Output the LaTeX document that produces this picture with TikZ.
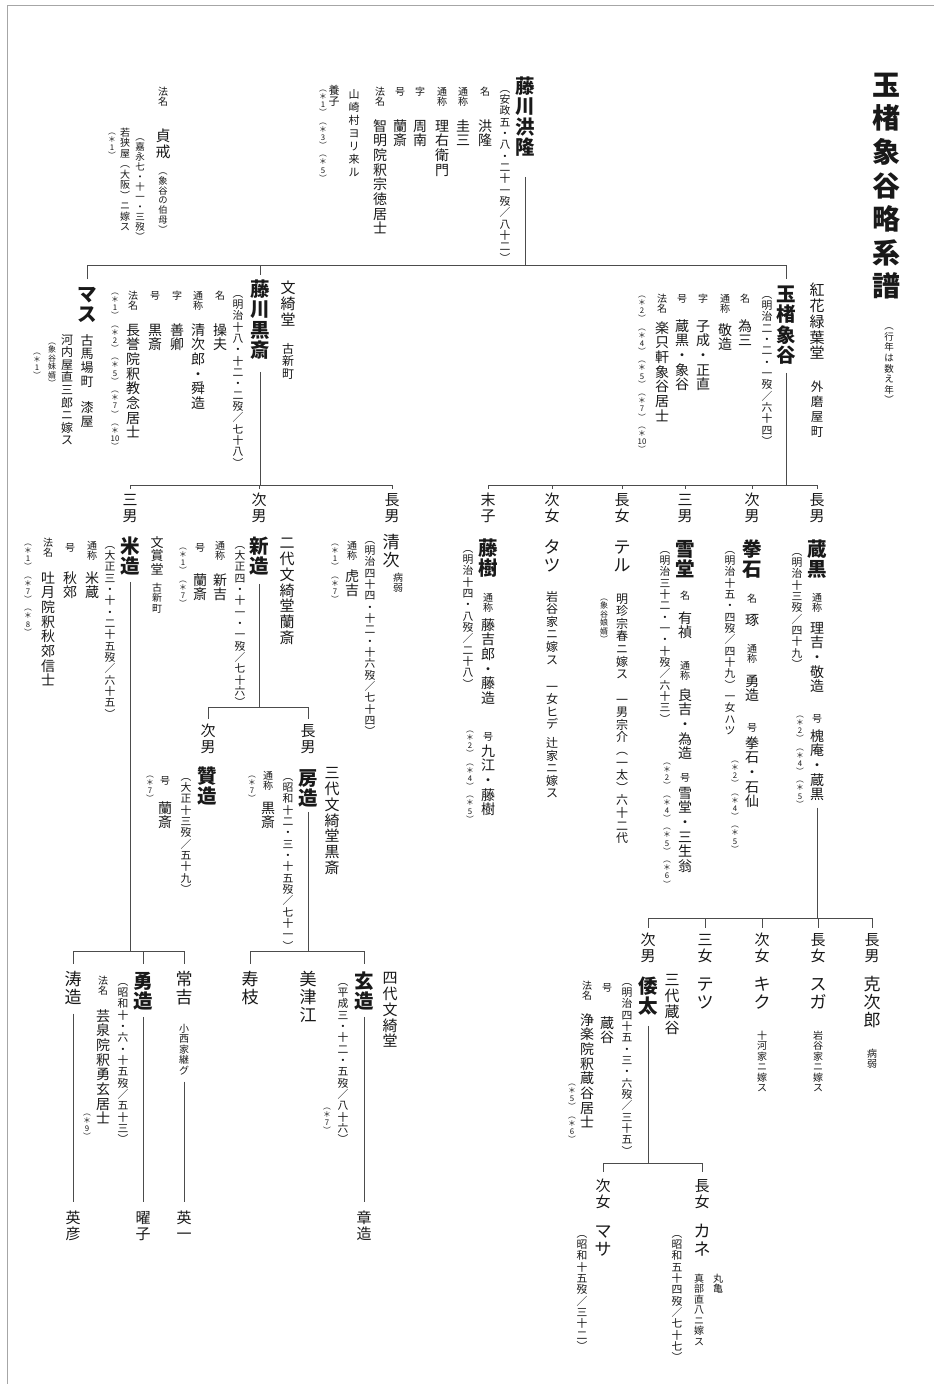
\documentclass[tikz,border=0pt]{standalone}
\usepackage{fontspec}
\setmainfont{Noto Sans CJK JP}
\makeatletter
\def\vtf{1.05}
\let\vt@end\relax
\def\vt@endm{\vt@end}
\def\vt@barm{|}
\newcommand\vt[1]{\vbox{\offinterlineskip\vt@loop#1\vt@end}}
\def\vt@loop#1{%
  \def\vt@arg{#1}%
  \ifx\vt@arg\vt@endm
  \else
    \ifx\vt@arg\vt@barm
      \vskip.5em
    \else
      \hbox to 1em{\hss\vrule height \dimexpr\vtf em-.12em\relax depth .12em width 0pt\relax#1\hss}%
    \fi
    \expandafter\vt@loop
  \fi}
\makeatother
\tikzset{
  vtx/.style={anchor=north, inner sep=0pt, outer sep=0pt, text=black!90},
  ttl/.style={vtx, font=\fontsize{28}{28}\selectfont\bfseries\def\vtf{1.2}},
  sub/.style={vtx, font=\fontsize{9.5}{9.5}\selectfont\def\vtf{1.12}},
  nm/.style={vtx, font=\fontsize{19.5}{19.5}\selectfont\bfseries},
  nmr/.style={vtx, font=\fontsize{17}{17}\selectfont},
  val/.style={vtx, font=\fontsize{14}{14}\selectfont},
  lbl/.style={vtx, font=\fontsize{10}{10}\selectfont},
  dt/.style={vtx, font=\fontsize{10.8}{10.8}\selectfont},
  dts/.style={vtx, font=\fontsize{9.5}{9.5}\selectfont},
  nt/.style={vtx, font=\fontsize{7.8}{7.8}\selectfont},
  rel/.style={vtx, font=\fontsize{15}{15}\selectfont},
  hall/.style={vtx, font=\fontsize{15}{15}\selectfont},
  sm/.style={vtx, font=\fontsize{11}{11}\selectfont},
  smm/.style={vtx, font=\fontsize{12}{12}\selectfont},
  sml/.style={vtx, font=\fontsize{10}{10}\selectfont},
  tny/.style={vtx, font=\fontsize{8}{8}\selectfont},
  ln/.style={line width=0.9pt, draw=black!70},
  frame/.style={line width=0.8pt, draw=black!35},
}
\begin{document}
\begin{tikzpicture}[x=1pt,y=-1pt]
\fill[white] (0,0) rectangle (934,1384);
\useasboundingbox (0,0) rectangle (934,1384);
\draw[frame] (7,1384) -- (7,5) -- (934,5);

% ---------- title ----------
\node[ttl] (title) at (886,65) {\vt{玉楮象谷略系譜}};
\node[sub] (subtitle) at (889,320) {\vt{︵行年は数え年︶}};

% ---------- 藤川洪隆 ----------
\node[nm] (kr) at (525,75) {\vt{藤川洪隆}};
\node[dt] (kr-d) at (505,82) {\vt{︵安政五・八・二十一歿／八十二︶}};
\node[lbl] (kr-l1) at (485,86) {\vt{名}};
\node[val] (kr-v1) at (485,118) {\vt{洪隆}};
\node[lbl] (kr-l2) at (463,86) {\vt{通称}};
\node[val] (kr-v2) at (463,118) {\vt{圭三}};
\node[lbl] (kr-l3) at (442,86) {\vt{通称}};
\node[val] (kr-v3) at (442,118) {\vt{理右衛門}};
\node[lbl] (kr-l4) at (420,86) {\vt{字}};
\node[val] (kr-v4) at (420,118) {\vt{周南}};
\node[lbl] (kr-l5) at (400,86) {\vt{号}};
\node[val] (kr-v5) at (400,118) {\vt{蘭斎}};
\node[lbl] (kr-l6) at (380,86) {\vt{法名}};
\node[val] (kr-v6) at (380,118) {\vt{智明院釈宗徳居士}};
\node[vtx, font=\fontsize{11}{11}\selectfont\def\vtf{1.18}] (kr-s1) at (354,87) {\vt{山崎村ヨリ来ル}};
\node[sm] (kr-s2) at (334,84) {\vt{養子}};
\node[nt] (kr-n) at (323,84) {\vt{︵＊1︶︵＊3︶︵＊5︶}};

% ---------- 貞戒 ----------
\node[lbl] (tk-l) at (163,86) {\vt{法名}};
\node[val, font=\fontsize{15}{15}\selectfont] (tk) at (163,128) {\vt{貞戒}};
\node[dts, font=\fontsize{9.3}{9.3}\selectfont] (tk-s) at (163,166) {\vt{︵象谷の伯母︶}};
\node[dts] (tk-d) at (140,132) {\vt{︵嘉永七・十一・三歿︶}};
\node[sml] (tk-m) at (125,127) {\vt{若狭屋︵大阪︶ニ嫁ス}};
\node[nt] (tk-n) at (112,127) {\vt{︵＊1︶}};

% ---------- 玉楮象谷 ----------
\node[nm] (sk) at (786,283) {\vt{玉楮象谷}};
\node[hall] (sk-h) at (817,282) {\vt{紅花緑葉堂}};
\node[vtx, font=\fontsize{12.5}{12.5}\selectfont\def\vtf{1.2}] (sk-hp) at (817,378) {\vt{外磨屋町}};
\node[dt] (sk-d) at (767,288) {\vt{︵明治二・二・一歿／六十四︶}};
\node[lbl] (sk-l1) at (745,293) {\vt{名}};
\node[val] (sk-v1) at (745,318) {\vt{為三}};
\node[lbl] (sk-l2) at (725,293) {\vt{通称}};
\node[val] (sk-v2) at (725,322) {\vt{敬造}};
\node[lbl] (sk-l3) at (703,293) {\vt{字}};
\node[val] (sk-v3) at (703,318) {\vt{子成・正直}};
\node[lbl] (sk-l4) at (682,293) {\vt{号}};
\node[val] (sk-v4) at (682,318) {\vt{蔵黒・象谷}};
\node[lbl] (sk-l5) at (662,293) {\vt{法名}};
\node[val] (sk-v5) at (662,320) {\vt{楽只軒象谷居士}};
\node[nt] (sk-n) at (642,290) {\vt{︵＊2︶︵＊4︶︵＊5︶︵＊7︶︵＊{10}︶}};

% ---------- 藤川黒斎 ----------
\node[nm] (ks) at (260,278) {\vt{藤川黒斎}};
\node[hall] (ks-h) at (288,280) {\vt{文綺堂}};
\node[smm] (ks-hp) at (288,342) {\vt{古新町}};
\node[dt] (ks-d) at (238,287) {\vt{︵明治十八・十二・二歿／七十八︶}};
\node[lbl] (ks-l1) at (220,290) {\vt{名}};
\node[val] (ks-v1) at (220,322) {\vt{操夫}};
\node[lbl] (ks-l2) at (198,290) {\vt{通称}};
\node[val] (ks-v2) at (198,322) {\vt{清次郎・舜造}};
\node[lbl] (ks-l3) at (177,290) {\vt{字}};
\node[val] (ks-v3) at (177,322) {\vt{善卿}};
\node[lbl] (ks-l4) at (155,290) {\vt{号}};
\node[val] (ks-v4) at (155,322) {\vt{黒斎}};
\node[lbl] (ks-l5) at (133,290) {\vt{法名}};
\node[val] (ks-v5) at (133,322) {\vt{長誉院釈教念居士}};
\node[nt] (ks-n) at (115,287) {\vt{︵＊1︶︵＊2︶︵＊5︶︵＊7︶︵＊{10}︶}};

% ---------- マス ----------
\node[nm] (ms) at (87,283) {\vt{マス}};
\node[vtx, font=\fontsize{13}{13}\selectfont] (ms-a) at (87,333) {\vt{古馬場町||漆屋}};
\node[smm] (ms-m) at (67,333) {\vt{河内屋直三郎ニ嫁ス}};
\node[tny] (ms-s) at (52,337) {\vt{︵象谷妹婿︶}};
\node[nt] (ms-n) at (37,347) {\vt{︵＊1︶}};

% ---------- 象谷の子 ----------
\node[rel] (r-kk) at (817,492) {\vt{長男}};
\node[rel] (r-ks) at (752,492) {\vt{次男}};
\node[rel] (r-sd) at (685,492) {\vt{三男}};
\node[rel] (r-te) at (622,492) {\vt{長女}};
\node[rel] (r-ta) at (552,492) {\vt{次女}};
\node[rel] (r-tj) at (488,492) {\vt{末子}};

% 蔵黒
\node[nm] (kk) at (817,538) {\vt{蔵黒}};
\node[dt] (kk-d) at (797,545) {\vt{︵明治十三歿／四十九︶}};
\node[lbl] (kk-l1) at (817,592) {\vt{通称}};
\node[val] (kk-v1) at (817,620) {\vt{理吉・敬造}};
\node[lbl] (kk-l2) at (817,713) {\vt{号}};
\node[val] (kk-v2) at (817,728) {\vt{槐庵・蔵黒}};
\node[nt] (kk-n) at (800,710) {\vt{︵＊2︶︵＊4︶︵＊5︶}};

% 拳石
\node[nm] (ke) at (752,538) {\vt{拳石}};
\node[dt] (ke-d) at (730,543) {\vt{︵明治十五・四歿／四十九︶一女ハツ}};
\node[lbl] (ke-l1) at (752,593) {\vt{名}};
\node[val] (ke-v1) at (752,612) {\vt{琢}};
\node[lbl] (ke-l2) at (752,643) {\vt{通称}};
\node[val] (ke-v2) at (752,673) {\vt{勇造}};
\node[lbl] (ke-l3) at (752,722) {\vt{号}};
\node[val] (ke-v3) at (752,735) {\vt{拳石・石仙}};
\node[nt] (ke-n) at (735,755) {\vt{︵＊2︶︵＊4︶︵＊5︶}};

% 雪堂
\node[nm] (sd) at (685,538) {\vt{雪堂}};
\node[dt] (sd-d) at (665,543) {\vt{︵明治三十二・一・十歿／六十三︶}};
\node[lbl] (sd-l1) at (685,590) {\vt{名}};
\node[val] (sd-v1) at (685,610) {\vt{有禎}};
\node[lbl] (sd-l2) at (685,660) {\vt{通称}};
\node[val] (sd-v2) at (685,687) {\vt{良吉・為造}};
\node[lbl] (sd-l3) at (685,772) {\vt{号}};
\node[val] (sd-v3) at (685,785) {\vt{雪堂・三生翁}};
\node[nt] (sd-n) at (667,757) {\vt{︵＊2︶︵＊4︶︵＊5︶︵＊6︶}};

% テル
\node[nmr] (te) at (622,538) {\vt{テル}};
\node[smm] (te-m) at (622,592) {\vt{明珍宗春ニ嫁ス}};
\node[tny] (te-s) at (604,593) {\vt{︵象谷娘婿︶}};
\node[smm] (te-c) at (622,693) {\vt{一男宗介︵一太︶六十二代}};

% タツ
\node[nmr] (ta) at (552,538) {\vt{タツ}};
\node[smm] (ta-m) at (552,590) {\vt{岩谷家ニ嫁ス}};
\node[smm] (ta-c) at (552,680) {\vt{一女ヒデ|辻家ニ嫁ス}};

% 藤樹
\node[nm] (tj) at (488,537) {\vt{藤樹}};
\node[dt] (tj-d) at (468,542) {\vt{︵明治十四・八歿／二十八︶}};
\node[lbl] (tj-l1) at (488,592) {\vt{通称}};
\node[val] (tj-v1) at (488,617) {\vt{藤吉郎・藤造}};
\node[lbl] (tj-l2) at (488,731) {\vt{号}};
\node[val] (tj-v2) at (488,743) {\vt{九江・藤樹}};
\node[nt] (tj-n) at (470,725) {\vt{︵＊2︶︵＊4︶︵＊5︶}};

% ---------- 黒斎の子 ----------
\node[rel] (r-sj) at (392,492) {\vt{長男}};
\node[rel] (r-sz) at (259,492) {\vt{次男}};
\node[rel] (r-yz) at (130,492) {\vt{三男}};

% 清次
\node[nmr] (sj) at (391,533) {\vt{清次}};
\node[sml] (sj-s) at (398,572) {\vt{病弱}};
\node[dt] (sj-d) at (370,533) {\vt{︵明治四十四・十二・十六歿／七十四︶}};
\node[lbl] (sj-l1) at (352,540) {\vt{通称}};
\node[val] (sj-v1) at (352,568) {\vt{虎吉}};
\node[nt] (sj-n) at (335,538) {\vt{︵＊1︶︵＊7︶}};

% 新造
\node[nm] (sz) at (259,535) {\vt{新造}};
\node[hall] (sz-h) at (287,535) {\vt{二代文綺堂蘭斎}};
\node[dt] (sz-d) at (240,538) {\vt{︵大正四・十一・一歿／七十六︶}};
\node[lbl] (sz-l1) at (220,540) {\vt{通称}};
\node[val] (sz-v1) at (220,572) {\vt{新吉}};
\node[lbl] (sz-l2) at (200,542) {\vt{号}};
\node[val] (sz-v2) at (200,572) {\vt{蘭斎}};
\node[nt] (sz-n) at (183,542) {\vt{︵＊1︶︵＊7︶}};

% 米造
\node[nm] (yz) at (130,535) {\vt{米造}};
\node[vtx, font=\fontsize{13}{13}\selectfont] (yz-h) at (157,535) {\vt{文賞堂}};
\node[sml] (yz-hp) at (157,582) {\vt{古新町}};
\node[dt] (yz-d) at (110,538) {\vt{︵大正三・十・二十五歿／六十五︶}};
\node[lbl] (yz-l1) at (92,540) {\vt{通称}};
\node[val] (yz-v1) at (92,570) {\vt{米蔵}};
\node[lbl] (yz-l2) at (70,542) {\vt{号}};
\node[val] (yz-v2) at (70,570) {\vt{秋郊}};
\node[lbl] (yz-l3) at (48,537) {\vt{法名}};
\node[val] (yz-v3) at (48,570) {\vt{吐月院釈秋郊信士}};
\node[nt] (yz-n) at (28,538) {\vt{︵＊1︶︵＊7︶︵＊8︶}};

% ---------- 新造の子 ----------
\node[rel] (r-fz) at (308,723) {\vt{長男}};
\node[rel] (r-az) at (208,723) {\vt{次男}};

% 房造
\node[nm] (fz) at (308,767) {\vt{房造}};
\node[hall] (fz-h) at (332,765) {\vt{三代文綺堂黒斎}};
\node[dt] (fz-d) at (288,770) {\vt{︵昭和十二・三・十五歿／七十一︶}};
\node[lbl] (fz-l1) at (268,770) {\vt{通称}};
\node[val] (fz-v1) at (268,800) {\vt{黒斎}};
\node[nt] (fz-n) at (252,770) {\vt{︵＊7︶}};

% 贊造
\node[nm] (az) at (207,765) {\vt{贊造}};
\node[dt] (az-d) at (186,770) {\vt{︵大正十三歿／五十九︶}};
\node[lbl] (az-l1) at (165,775) {\vt{号}};
\node[val] (az-v1) at (165,800) {\vt{蘭斎}};
\node[nt] (az-n) at (150,770) {\vt{︵＊7︶}};

% ---------- 米造の子 ----------
\node[nmr] (tk2) at (184,970) {\vt{常吉}};
\node[sml] (tk2-s) at (184,1023) {\vt{小西家継グ}};
\node[nm] (yu) at (143,970) {\vt{勇造}};
\node[dt] (yu-d) at (123,975) {\vt{︵昭和十・六・十五歿／五十三︶}};
\node[lbl] (yu-l1) at (103,975) {\vt{法名}};
\node[val] (yu-v1) at (103,1008) {\vt{芸泉院釈勇玄居士}};
\node[nt] (yu-n) at (87,1108) {\vt{︵＊9︶}};
\node[nmr] (tz) at (73,970) {\vt{涛造}};

% ---------- 房造の子 ----------
\node[nmr] (se) at (250,970) {\vt{寿枝}};
\node[nmr] (me) at (308,970) {\vt{美津江}};
\node[nm] (gz) at (364,970) {\vt{玄造}};
\node[hall] (gz-h) at (390,970) {\vt{四代文綺堂}};
\node[dt] (gz-d) at (343,975) {\vt{︵平成三・十二・五歿／八十六︶}};
\node[nt] (gz-n) at (327,1102) {\vt{︵＊7︶}};

% ---------- 孫 ----------
\node[rel] (hh) at (73,1210) {\vt{英彦}};
\node[rel] (yk) at (143,1210) {\vt{曜子}};
\node[rel] (ei) at (184,1210) {\vt{英一}};
\node[rel] (sz2) at (364,1210) {\vt{章造}};

% ---------- 蔵黒の子 ----------
\node[rel] (r-kj) at (872,932) {\vt{長男}};
\node[rel] (r-sg) at (818,932) {\vt{長女}};
\node[rel] (r-kq) at (762,932) {\vt{次女}};
\node[rel] (r-tt) at (705,932) {\vt{三女}};
\node[rel] (r-wt) at (648,932) {\vt{次男}};
\node[nmr] (kj) at (872,975) {\vt{克次郎}};
\node[sml] (kj-s) at (872,1048) {\vt{病弱}};
\node[nmr] (sg) at (818,975) {\vt{スガ}};
\node[sml] (sg-m) at (818,1030) {\vt{岩谷家ニ嫁ス}};
\node[nmr] (kq) at (762,975) {\vt{キク}};
\node[sml] (kq-m) at (762,1030) {\vt{十河家ニ嫁ス}};
\node[nmr] (tt) at (705,975) {\vt{テツ}};

% 倭太
\node[nm] (wt) at (648,975) {\vt{倭太}};
\node[hall] (wt-h) at (672,972) {\vt{三代蔵谷}};
\node[dt] (wt-d) at (627,975) {\vt{︵明治四十五・三・六歿／三十五︶}};
\node[lbl] (wt-l1) at (607,982) {\vt{号}};
\node[val] (wt-v1) at (607,1015) {\vt{蔵谷}};
\node[lbl] (wt-l2) at (587,980) {\vt{法名}};
\node[val] (wt-v2) at (587,1012) {\vt{浄楽院釈蔵谷居士}};
\node[nt] (wt-n) at (572,1078) {\vt{︵＊5︶︵＊6︶}};

% ---------- 倭太の子 ----------
\node[rel] (r-kn) at (702,1178) {\vt{長女}};
\node[rel] (r-ma) at (603,1178) {\vt{次女}};
\node[nmr] (kn) at (702,1222) {\vt{カネ}};
\node[dt] (kn-d) at (677,1227) {\vt{︵昭和五十四歿／七十七︶}};
\node[sml] (kn-m) at (699,1273) {\vt{真部直八ニ嫁ス}};
\node[sml] (kn-p) at (718,1273) {\vt{丸亀}};
\node[nmr] (ma) at (603,1222) {\vt{マサ}};
\node[dt] (ma-d) at (582,1227) {\vt{︵昭和十五歿／三十二︶}};

% ================= connectors =================
\coordinate (b1) at (0,265);
\coordinate (b2) at (0,485);
\coordinate (b3) at (0,707);
\coordinate (b4) at (0,951);
\coordinate (b5) at (0,918);
\coordinate (b6) at (0,1163);

% 洪隆 -> children
\draw[ln] ([yshift=-20pt]kr.south) -- (kr.south |- b1);
\draw[ln] ([yshift=4pt]ms.north) -- (ms.north |- b1) -- (sk.north |- b1) -- ([yshift=4pt]sk.north);
\draw[ln] (ks.north |- b1) -- ([yshift=3pt]ks.north);

% 象谷 -> children
\draw[ln] ([yshift=-8pt]sk.south) -- (sk.south |- b2);
\draw[ln] (r-tj.north |- b2) -- (r-kk.north |- b2);
\foreach \c in {r-kk,r-ks,r-sd,r-te,r-ta,r-tj}
  \draw[ln] (\c.north |- b2) -- ([yshift=3pt]\c.north);

% 黒斎 -> children
\draw[ln] ([yshift=-12pt]ks.south) -- (ks.south |- b2);
\draw[ln] (r-yz.north |- b2) -- (r-sj.north |- b2);
\foreach \c in {r-sj,r-sz,r-yz}
  \draw[ln] (\c.north |- b2) -- ([yshift=3pt]\c.north);

% 新造 -> children
\draw[ln] ([yshift=-8pt]sz.south) -- (sz.south |- b3);
\draw[ln] (r-az.north |- b3) -- (r-fz.north |- b3);
\foreach \c in {r-fz,r-az}
  \draw[ln] (\c.north |- b3) -- ([yshift=4pt]\c.north);

% 米造 -> children
\draw[ln] ([yshift=-6pt]yz.south) -- (yz.south |- b4);
\draw[ln] (tz.north |- b4) -- (tk2.north |- b4);
\foreach \c in {tz,yu,tk2}
  \draw[ln] (\c.north |- b4) -- ([yshift=6pt]\c.north);

% 房造 -> children
\draw[ln] ([yshift=-4pt]fz.south) -- (fz.south |- b4);
\draw[ln] (se.north |- b4) -- (gz.north |- b4);
\foreach \c in {se,gz}
  \draw[ln] (\c.north |- b4) -- ([yshift=6pt]\c.north);

% grandchildren
\draw[ln] ([yshift=-8pt]tz.south) -- ([yshift=8pt]hh.north);
\draw[ln] ([yshift=-6pt]yu.south) -- ([yshift=8pt]yk.north);
\draw[ln] ([yshift=-6pt]tk2-s.south) -- ([yshift=8pt]ei.north);
\draw[ln] ([yshift=-6pt]gz.south) -- ([yshift=8pt]sz2.north);

% 蔵黒 -> children
\draw[ln] ([yshift=-6pt]kk-v2.south) -- (kk-v2.south |- b5);
\draw[ln] (r-wt.north |- b5) -- (r-kj.north |- b5);
\foreach \c in {r-kj,r-sg,r-kq,r-tt,r-wt}
  \draw[ln] (\c.north |- b5) -- ([yshift=4pt]\c.north);

% 倭太 -> children
\draw[ln] ([yshift=-10pt]wt.south) -- (wt.south |- b6);
\draw[ln] (r-ma.north |- b6) -- (r-kn.north |- b6);
\foreach \c in {r-kn,r-ma}
  \draw[ln] (\c.north |- b6) -- ([yshift=6pt]\c.north);
\end{tikzpicture}
\end{document}
